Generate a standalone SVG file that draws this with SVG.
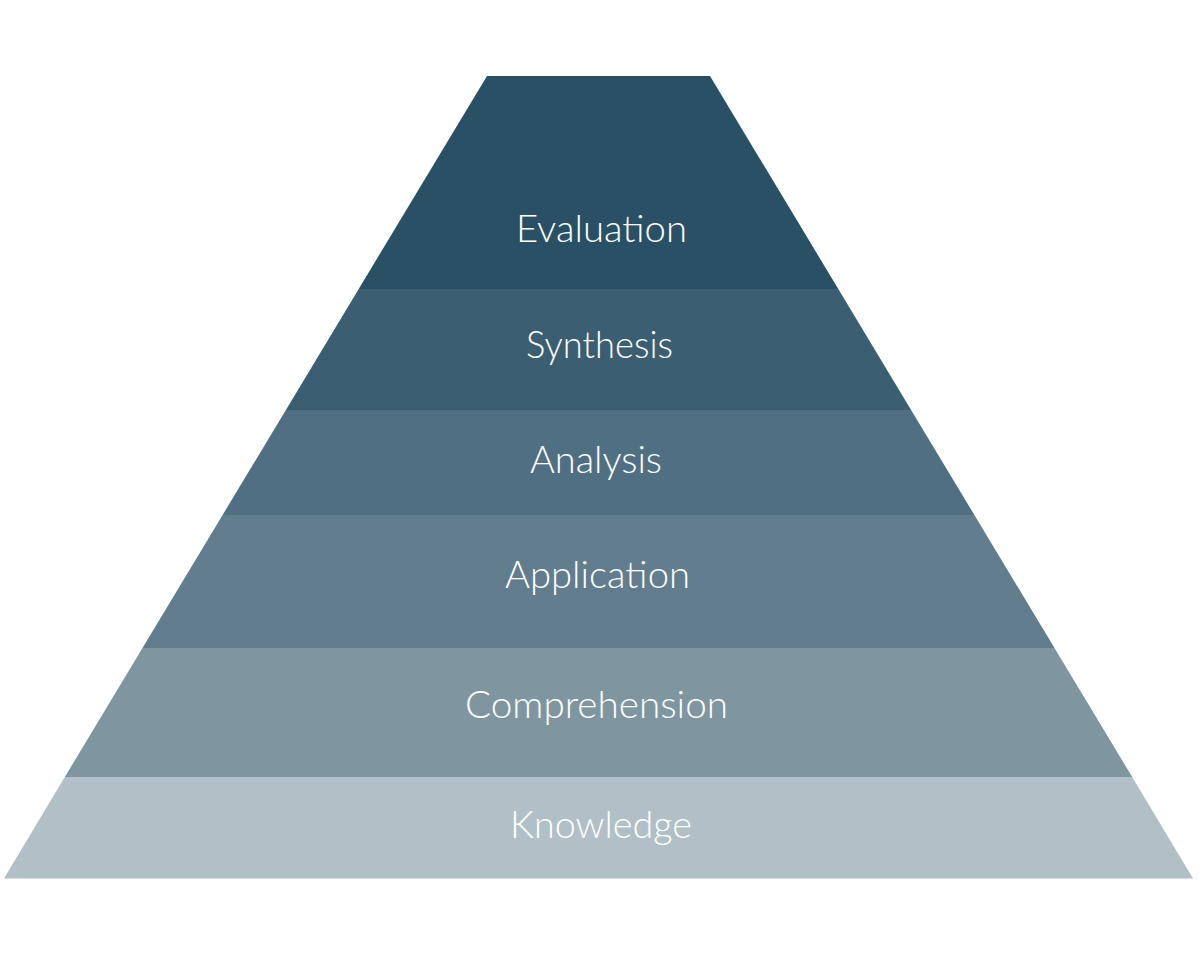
<svg xmlns="http://www.w3.org/2000/svg" width="1199" height="974" viewBox="0 0 1199 974">
<style>
.lbl{font-family:"Lato","Open Sans","Liberation Sans",sans-serif;font-size:37px;fill:#ffffff;text-anchor:middle;font-weight:300}
</style>
<rect width="1199" height="974" fill="#ffffff"/>
<g id="knowledge">
<polygon points="64.8,777 1132.2,777 1193,878.5 4,878.5" fill="#b1c0c7"/>
<text class="lbl" x="601" y="838" textLength="182" lengthAdjust="spacingAndGlyphs">Knowledge</text>
</g>
<g id="comprehension">
<polygon points="142.5,648 1054.5,648 1132.2,777 64.8,777" fill="#7f96a1"/>
<text class="lbl" x="596.5" y="718" textLength="263" lengthAdjust="spacingAndGlyphs">Comprehension</text>
</g>
<g id="application">
<polygon points="222.6,515 974.4,515 1054.5,648 142.5,648" fill="#627d8e"/>
<text class="lbl" x="597.5" y="588" textLength="185" lengthAdjust="spacingAndGlyphs">Application</text>
</g>
<g id="analysis">
<polygon points="285.9,410 911.1,410 974.4,515 222.6,515" fill="#506f83"/>
<text class="lbl" x="596" y="473" textLength="132" lengthAdjust="spacingAndGlyphs">Analysis</text>
</g>
<g id="synthesis">
<polygon points="358.7,289 838.3,289 911.1,410 285.9,410" fill="#3c5e73"/>
<text class="lbl" x="599.5" y="358" textLength="147" lengthAdjust="spacingAndGlyphs">Synthesis</text>
</g>
<g id="evaluation">
<polygon points="487,76 710,76 838.3,289 358.7,289" fill="#2a5066"/>
<text class="lbl" x="601.5" y="242" textLength="171" lengthAdjust="spacingAndGlyphs">Evaluation</text>
</g>
</svg>
